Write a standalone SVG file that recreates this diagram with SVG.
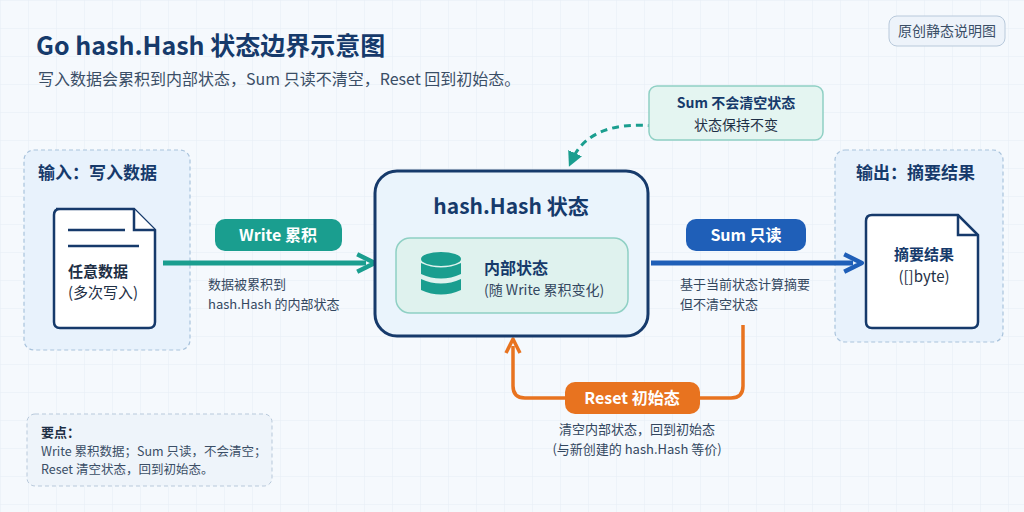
<svg xmlns="http://www.w3.org/2000/svg" width="1024" height="512" viewBox="0 0 1024 512">
<defs>
<pattern id="grid" width="28" height="28" patternUnits="userSpaceOnUse"><path d="M28 0H0V28" fill="none" stroke="#e6edf5" stroke-width="1"/></pattern>
<marker id="aTeal" viewBox="0 0 10 10" refX="5" refY="5" markerWidth="4.4" markerHeight="4.4" orient="auto"><path d="M1 1L9 5L1 9" fill="none" stroke="#1a9e8f" stroke-width="2" stroke-linejoin="round"/></marker>
<marker id="aBlue" viewBox="0 0 10 10" refX="5" refY="5" markerWidth="4.4" markerHeight="4.4" orient="auto"><path d="M1 1L9 5L1 9" fill="none" stroke="#1f5fb8" stroke-width="2" stroke-linejoin="round"/></marker>
<marker id="aOr" viewBox="0 0 10 10" refX="5" refY="5" markerWidth="5" markerHeight="5" orient="auto"><path d="M1 1L9 5L1 9" fill="none" stroke="#e8731f" stroke-width="2" stroke-linejoin="round"/></marker>
<marker id="aDash" viewBox="0 0 10 10" refX="5" refY="5" markerWidth="5" markerHeight="5" orient="auto"><path d="M0 0L10 5L0 10z" fill="#1a9e8f"/></marker>
</defs>
<style>
text{font-family:"Noto Sans CJK SC","Noto Sans",sans-serif}
.t{fill:#163a6b;font-weight:700}
.s{fill:#33475f;font-size:13px}
.w{fill:#fff;font-weight:700;font-size:16px}
.panel{fill:#e8f2fc;stroke:#a9c3dc;stroke-dasharray:4 3;stroke-width:1.2}
</style>
<rect width="1024" height="512" fill="#f5f9fd"/>
<rect width="1024" height="512" fill="url(#grid)"/>
<text x="36" y="55" class="t" font-size="25">Go hash.Hash 状态边界示意图</text>
<text x="38" y="85" font-size="16" fill="#3a4e66">写入数据会累积到内部状态，Sum 只读不清空，Reset 回到初始态。</text>
<g id="badge"><rect x="889" y="16" width="116" height="30" rx="8" fill="#edf3fa" stroke="#b8c9db"/><text x="947" y="36" text-anchor="middle" font-size="14" fill="#3a4e66">原创静态说明图</text></g>

<g id="input">
<rect x="24" y="150" width="166" height="200" rx="10" class="panel"/>
<text x="38" y="179" class="t" font-size="17">输入：写入数据</text>
<path d="M56 209H134L155 230V322Q155 328 149 328H60Q54 328 54 322V215Q54 209 60 209z" fill="#fff" stroke="#163a6b" stroke-width="2.5"/>
<path d="M134 209V230H155" fill="#fff" stroke="#163a6b" stroke-width="2.5"/>
<path d="M68 230H125M68 246H139" stroke="#163a6b" stroke-width="2.5"/>
<text x="68" y="277" font-size="15" fill="#1e2f45" font-weight="600">任意数据</text>
<text x="68" y="298" font-size="15" fill="#1e2f45">(多次写入)</text>
</g>

<g id="output">
<rect x="835" y="150" width="168" height="192" rx="10" class="panel"/>
<text x="856" y="179" class="t" font-size="17">输出：摘要结果</text>
<path d="M872 215H958L978 235V322Q978 328 972 328H872Q866 328 866 322V221Q866 215 872 215z" fill="#fff" stroke="#163a6b" stroke-width="2.5"/>
<path d="M958 215V235H978" fill="none" stroke="#163a6b" stroke-width="2.5"/>
<text x="924" y="260" text-anchor="middle" class="t" font-size="15">摘要结果</text>
<text x="924" y="282" text-anchor="middle" font-size="15" fill="#1e2f45">([]byte)</text>
</g>

<g id="connectors">
<path d="M163 263H366" stroke="#1a9e8f" stroke-width="5" fill="none" marker-end="url(#aTeal)"/>
<path d="M651 263H853" stroke="#1f5fb8" stroke-width="5" fill="none" marker-end="url(#aBlue)"/>
<path d="M743 325V386Q743 398 731 398H525Q513 398 513 386V346" stroke="#e8731f" stroke-width="3.5" fill="none" marker-end="url(#aOr)"/>
<path d="M655 126Q590 120 572 160" stroke="#1a9e8f" stroke-width="3" stroke-dasharray="7 5" fill="none" marker-end="url(#aDash)"/>
</g>

<g id="write-label">
<rect x="215" y="219" width="127" height="32" rx="10" fill="#1a9e8f"/>
<text x="278" y="241" text-anchor="middle" class="w">Write 累积</text>
<text x="208" y="289" class="s">数据被累积到</text>
<text x="208" y="309" class="s">hash.Hash 的内部状态</text>
</g>

<g id="state">
<rect x="375" y="171" width="273" height="165" rx="22" fill="#eaf4fc" stroke="#163a6b" stroke-width="3"/>
<text x="511" y="214" text-anchor="middle" class="t" font-size="21">hash.Hash 状态</text>
<rect x="396" y="238" width="232" height="75" rx="14" fill="#dff2ee" stroke="#8fd0c4" stroke-width="1.5"/>
<g fill="#1a9e8f"><ellipse cx="441" cy="259" rx="20" ry="7"/><path d="M421 263Q441 272 461 263V274Q441 283 421 274z"/><path d="M421 279Q441 288 461 279V290Q441 299 421 290z"/></g>
<text x="484" y="274" class="t" font-size="16">内部状态</text>
<text x="484" y="295" font-size="14" fill="#33475f">(随 Write 累积变化)</text>
</g>

<g id="sum-label">
<rect x="686" y="219" width="120" height="32" rx="10" fill="#1f5fb8"/>
<text x="746" y="241" text-anchor="middle" class="w">Sum 只读</text>
<text x="680" y="289" class="s">基于当前状态计算摘要</text>
<text x="680" y="309" class="s">但不清空状态</text>
</g>

<g id="note-sum">
<rect x="649" y="86" width="174" height="54" rx="8" fill="#e4f5f1" stroke="#8fd0c4" stroke-width="1.5"/>
<text x="736" y="108" text-anchor="middle" font-size="14" font-weight="700" fill="#163a6b">Sum 不会清空状态</text>
<text x="736" y="130" text-anchor="middle" font-size="14" fill="#1e2f45">状态保持不变</text>
</g>

<g id="reset">
<rect x="565" y="382" width="135" height="32" rx="10" fill="#e8731f"/>
<text x="632" y="404" text-anchor="middle" class="w">Reset 初始态</text>
<text x="637" y="434" text-anchor="middle" class="s">清空内部状态，回到初始态</text>
<text x="637" y="454" text-anchor="middle" class="s">(与新创建的 hash.Hash 等价)</text>
</g>

<g id="keypoints">
<rect x="27" y="414" width="245" height="72" rx="8" fill="#eef4fa" stroke="#b8c9db" stroke-dasharray="4 3"/>
<text x="41" y="437" font-size="13" font-weight="700" fill="#1e2f45">要点：</text>
<text x="41" y="456" font-size="12.5" fill="#3a4e66">Write 累积数据；Sum 只读，不会清空；</text>
<text x="41" y="474" font-size="12.5" fill="#3a4e66">Reset 清空状态，回到初始态。</text>
</g>
</svg>
